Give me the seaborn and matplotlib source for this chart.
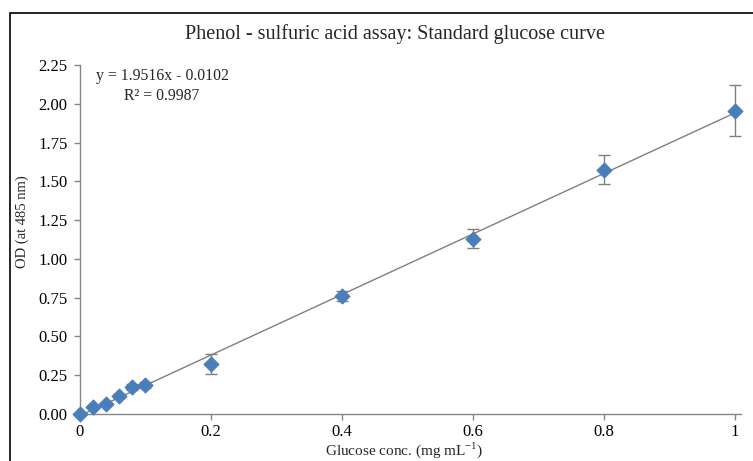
import numpy as np
import pandas as pd
import seaborn as sns
import matplotlib.pyplot as plt
from matplotlib.patches import Rectangle

# Standard glucose curve (phenol - sulfuric acid assay)
conc = [0.0, 0.02, 0.04, 0.06, 0.08, 0.10, 0.2, 0.4, 0.6, 0.8, 1.0]
od = [0.0, 0.047, 0.063, 0.114, 0.172, 0.188, 0.322, 0.760, 1.130, 1.575, 1.955]
od_err = [0.0, 0.008, 0.008, 0.012, 0.020, 0.018, 0.065, 0.030, 0.060, 0.095, 0.165]

slope, intercept, r2 = 1.9516, -0.0102, 0.9987

df = pd.DataFrame({'conc': conc, 'od': od, 'err': od_err})
fit = pd.DataFrame({'conc': [0.0, 1.0]})
fit['od'] = slope * fit['conc'] + intercept

sns.set_theme(style="white")
plt.rcParams['font.family'] = ['Liberation Serif', 'DejaVu Serif']
plt.rcParams['mathtext.fontset'] = 'custom'
plt.rcParams['mathtext.rm'] = 'Liberation Serif'

W, H = 753, 461
fig = plt.figure(figsize=(W / 100, H / 100), dpi=100)
ax = fig.add_axes([80 / W, 47 / H, 661 / W, 349 / H])

# chart frame (cut off at right/bottom like the original)
fig.patches.append(Rectangle((10 / W, -0.1), 1.2, 1 - 13 / H + 0.1,
                             transform=fig.transFigure, fill=False,
                             edgecolor='black', linewidth=1.2))

sns.lineplot(x='conc', y='od', data=fit, ax=ax, color='#7f7f7f', linewidth=1.0)
ax.errorbar(df['conc'], df['od'], yerr=df['err'], fmt='none', ecolor='#7f7f7f',
            elinewidth=1.0, capsize=4, capthick=1.0, zorder=3)
sns.scatterplot(x='conc', y='od', data=df, ax=ax, marker='D', s=60,
                color='#4a7ebb', edgecolor='#4a7ebb', zorder=4, clip_on=False)

ax.set_xlim(0, 1.0092)
ax.set_ylim(0, 2.25)
ax.set_xticks([0, 0.2, 0.4, 0.6, 0.8, 1.0])
ax.set_xticklabels(['0', '0.2', '0.4', '0.6', '0.8', '1'])
ax.set_yticks(np.arange(0, 2.26, 0.25))
ax.set_yticklabels([f'{v:.2f}' for v in np.arange(0, 2.26, 0.25)])

for side in ['top', 'right']:
    ax.spines[side].set_visible(False)
for side in ['left', 'bottom']:
    ax.spines[side].set_color('#868686')
    ax.spines[side].set_linewidth(1.0)
ax.tick_params(axis='both', direction='out', length=4, width=1.0,
               color='#868686', labelsize=12, labelcolor='black', pad=5)
ax.tick_params(axis='x', pad=3)
ax.tick_params(left=True, bottom=True)

ax.set_xlabel('')
ax.set_ylabel('')
fig.text(404 / W, 1 - 450 / H, r'Glucose conc. (mg mL$^{-1}$)', ha='center',
         va='center', fontsize=11)
fig.text(22 / W, 1 - 222 / H, 'OD (at 485 nm)', ha='center', va='center',
         rotation=90, fontsize=10.5)
fig.text(395 / W, 1 - 34 / H, 'Phenol - sulfuric acid assay: Standard glucose curve',
         ha='center', va='center', fontsize=14.5)
fig.text(162 / W, 1 - 86 / H,
         f'y = {slope}x - {abs(intercept)}\nR² = {r2}',
         ha='center', va='center', multialignment='center', fontsize=11.3,
         linespacing=1.3)

fig.savefig('out.png', dpi=100)
